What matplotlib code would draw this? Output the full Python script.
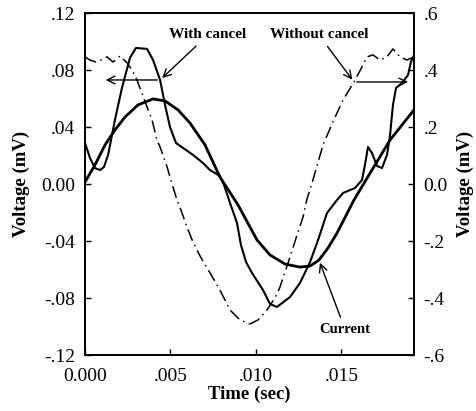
import matplotlib
matplotlib.use("Agg")
import matplotlib.pyplot as plt
import numpy as np

plt.rcParams['font.family'] = ['Liberation Serif', 'DejaVu Serif']

# with cancel (left axis, mV)
t_with = [0, 0.00029, 0.00058, 0.00088, 0.00111, 0.00135, 0.00175, 0.00216, 0.00263,
          0.00298, 0.00363, 0.00398, 0.00439, 0.00468, 0.00497, 0.00532, 0.00573, 0.00632,
          0.0069, 0.00731, 0.00789, 0.00813, 0.00848, 0.00889, 0.00912, 0.00942, 0.00977,
          0.01041, 0.01082, 0.01123, 0.01199, 0.01257, 0.01316, 0.01363, 0.01415, 0.01474,
          0.01509, 0.01579, 0.0162, 0.01637, 0.01655, 0.01678, 0.01708, 0.01737, 0.01766,
          0.01784, 0.01801, 0.01819, 0.01854, 0.01889, 0.01906, 0.01924]
v_with = [0.0288, 0.0183, 0.0112, 0.0098, 0.0119, 0.0204, 0.0449, 0.0674, 0.0885,
          0.0955, 0.0948, 0.087, 0.073, 0.0555, 0.040, 0.0288, 0.0253, 0.0204,
          0.0147, 0.0098, 0.0056, -0.0007, -0.0133, -0.0274, -0.0428, -0.0548, -0.0625,
          -0.0744, -0.0842, -0.0863, -0.0793, -0.0695, -0.0548, -0.0393, -0.0204, -0.0112,
          -0.0063, -0.0028, 0.0028, 0.0133, 0.026, 0.0218, 0.0126, 0.0112, 0.0204,
          0.0344, 0.0555, 0.0674, 0.0709, 0.0765, 0.0856, 0.0906]

# current (left axis)
t_cur = [0, 0.00058, 0.00117, 0.00175, 0.00234, 0.0031, 0.00398, 0.00468, 0.00544,
         0.00614, 0.00702, 0.00789, 0.00895, 0.01006, 0.01082, 0.0117, 0.01257, 0.01316,
         0.01368, 0.01421, 0.01474, 0.01573, 0.01678, 0.01784, 0.01924]
v_cur = [0.0014, 0.0133, 0.0274, 0.0379, 0.047, 0.0555, 0.0597, 0.0583, 0.052,
         0.0428, 0.0274, 0.0049, -0.0147, -0.0393, -0.0498, -0.0562, -0.0583, -0.0576,
         -0.0534, -0.0449, -0.0344, -0.0112, 0.0098, 0.0309, 0.052]

# without cancel (right axis, mV)
t_without = [0, 0.00029, 0.00064, 0.00094, 0.00129, 0.00164, 0.00205, 0.00246, 0.00281,
             0.00304, 0.00363, 0.00392, 0.00421, 0.00439, 0.0048, 0.00509, 0.00538, 0.00561,
             0.00596, 0.00632, 0.00673, 0.00731, 0.00789, 0.00848, 0.00906, 0.00965, 0.01012,
             0.01064, 0.01111, 0.0114, 0.01199, 0.0124, 0.01275, 0.01298, 0.01333, 0.01363,
             0.01392, 0.0145, 0.01509, 0.01573, 0.0162, 0.01649, 0.01684, 0.01725, 0.01766,
             0.01801, 0.01842, 0.01883, 0.01924]
v_without = [0.446, 0.435, 0.428, 0.435, 0.446, 0.428, 0.449, 0.425, 0.393,
             0.365, 0.270, 0.225, 0.154, 0.130, 0.060, 0.0, -0.056, -0.091,
             -0.151, -0.204, -0.253, -0.312, -0.372, -0.442, -0.477, -0.491, -0.477,
             -0.442, -0.400, -0.362, -0.256, -0.179, -0.116, -0.053, 0.014, 0.077,
             0.137, 0.218, 0.295, 0.358, 0.411, 0.446, 0.453, 0.435, 0.446,
             0.474, 0.446, 0.435, 0.446]

xticks = [0.0, 0.005, 0.010, 0.015]
xtick_labels = ['0.000', '.005', '.010', '.015']
lticks = [-0.12, -0.08, -0.04, 0.0, 0.04, 0.08, 0.12]
ltick_labels = ['-.12', '-.08', '-.04', '0.00', '.04', '.08', '.12']
rticks = [-0.6, -0.4, -0.2, 0.0, 0.2, 0.4, 0.6]
rtick_labels = ['-.6', '-.4', '-.2', '0.0', '.2', '.4', '.6']

fig = plt.figure(figsize=(4.77, 4.11), dpi=100)
ax = fig.add_axes([85/477, 56/411, 329/477, 342/411])
ax2 = ax.twinx()

ax.plot(t_with, v_with, color='black', lw=1.5)
ax.plot(t_cur, v_cur, color='black', lw=2.0)
ax2.plot(t_without, v_without, color='black', lw=1.1, dashes=[8, 3, 1, 3])

ax.set_xlim(0, 0.01924)
ax.set_ylim(-0.12, 0.12)
ax2.set_ylim(-0.6, 0.6)

fs = 14
ax.set_xticks(xticks, xtick_labels, fontsize=fs)
ax.set_yticks(lticks, ltick_labels, fontsize=fs)
ax2.set_yticks(rticks, rtick_labels, fontsize=fs)
ax.tick_params(axis='x', direction='in', length=4, width=1, pad=9)
ax.tick_params(axis='y', direction='in', length=4, width=1, pad=7)
ax2.tick_params(direction='in', length=4, width=1, pad=7)
for a in (ax, ax2):
    for s in a.spines.values():
        s.set_linewidth(1.3)

ax.set_xlabel('Time (sec)', fontsize=13.5, fontweight='bold', labelpad=1)
ax.set_ylabel('Voltage (mV)', fontsize=13.5, fontweight='bold', labelpad=8)
ax2.set_ylabel('Voltage (mV)', fontsize=13.5, fontweight='bold', rotation=90, labelpad=6)

arrow = dict(arrowstyle='->', color='black', lw=1.0, mutation_scale=14)

# with cancel
tip_w = (t_with[12], v_with[12])
ax.annotate('With cancel', xy=tip_w, xytext=(0.00719, 0.1046), ha='center', va='center',
            fontsize=11, fontweight='bold', arrowprops=arrow)
ax.annotate('', xy=(0.00105, tip_w[1]), xytext=tip_w, arrowprops=arrow)

# without cancel
tip_o = (t_without[39], v_without[39])
ax2.annotate('Without cancel', xy=tip_o, xytext=(0.01368, 0.523), ha='center', va='center',
             fontsize=11, fontweight='bold', arrowprops=arrow)
ax2.annotate('', xy=(0.01906, tip_o[1]), xytext=tip_o, arrowprops=arrow)

# current
tip_c = (t_cur[18], v_cur[18])
ax.annotate('Current', xy=tip_c, xytext=(0.0152, -0.1018), ha='center', va='center',
            fontsize=10.5, fontweight='bold', arrowprops=arrow)

fig.savefig('out.png', dpi=100)
